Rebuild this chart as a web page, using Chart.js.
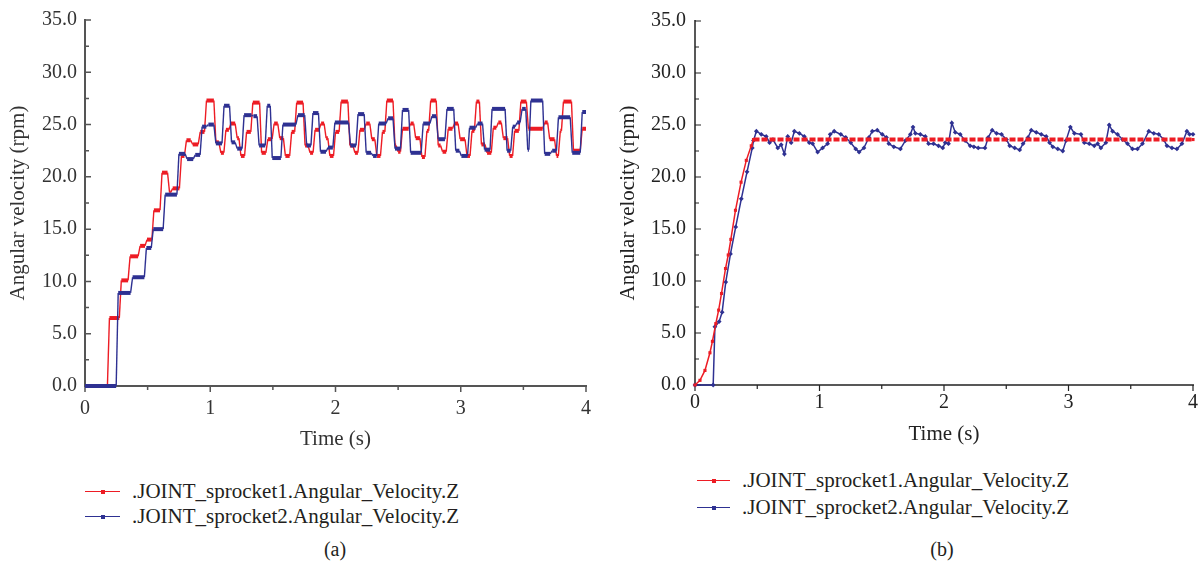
<!DOCTYPE html>
<html><head><meta charset="utf-8">
<script src="https://cdn.jsdelivr.net/npm/chart.js@4/dist/chart.umd.min.js"></script>
<style>
body{margin:0;width:1204px;height:567px;background:#fff;position:relative;overflow:hidden;font-family:"Liberation Serif","Times New Roman",serif;color:#231f20}
canvas{position:absolute;top:0}
#ca{left:0}
#cb{left:602px}
.leg{position:absolute;font-size:21px;white-space:nowrap}
.row{display:flex;align-items:center}
.sw{position:relative;height:1.6px;margin-right:12px;display:inline-block}
.sw i{position:absolute;left:50%;top:50%;width:4px;height:4px;margin:-2px 0 0 -2px}
.cap{position:absolute;font-size:20px;line-height:24px;transform:translateX(-50%)}
</style></head>
<body>
<canvas id="ca" width="602" height="460"></canvas>
<canvas id="cb" width="602" height="460"></canvas>

<div class="leg" id="legA" style="left:85px;top:479px"></div>
<div class="leg" id="legB" style="left:697px;top:467px"></div>
<div class="cap" style="left:335px;top:537px">(a)</div>
<div class="cap" style="left:942px;top:537px">(b)</div>

<script>
// ---------------- data ----------------
const seriesNames = ['.JOINT_sprocket1.Angular_Velocity.Z', '.JOINT_sprocket2.Angular_Velocity.Z'];
const xTicks = [0, 1, 2, 3, 4];
const yTicks = [0, 5, 10, 15, 20, 25, 30, 35];

// (a) step levels: start time of each level (s) and its value (rpm)
const aTime1 = [0, 0.195, 0.29, 0.36, 0.44, 0.495, 0.55, 0.615, 0.675, 0.70, 0.77, 0.81, 0.86, 0.92, 0.97, 1.045, 1.085, 1.125, 1.165, 1.215, 1.245, 1.29, 1.34, 1.41, 1.46, 1.51, 1.555, 1.60, 1.65, 1.69, 1.757, 1.797, 1.837, 1.885, 1.925, 1.955, 2.0, 2.045, 2.115, 2.155, 2.195, 2.245, 2.29, 2.33, 2.375, 2.41, 2.475, 2.50, 2.535, 2.60, 2.64, 2.69, 2.73, 2.76, 2.82, 2.855, 2.90, 2.95, 2.995, 3.05, 3.09, 3.125, 3.165, 3.21, 3.26, 3.30, 3.34, 3.39, 3.43, 3.48, 3.54, 3.67, 3.71, 3.765, 3.795, 3.82, 3.90, 3.97];
const aVel1 = [0, 6.5, 10.1, 12.4, 13.4, 14.0, 16.8, 20.4, 18.5, 18.9, 22.0, 23.5, 23.1, 24.3, 27.3, 23.3, 22.3, 24.5, 25.1, 23.7, 22.0, 24.3, 27.1, 22.3, 23.6, 25.1, 23.7, 22.0, 24.3, 27.1, 23.0, 22.3, 24.5, 25.1, 23.7, 22.0, 24.3, 27.2, 23.0, 22.3, 24.5, 25.1, 23.6, 22.0, 24.3, 27.3, 23.0, 22.4, 24.6, 25.1, 23.7, 21.9, 24.4, 27.3, 23.0, 22.4, 24.6, 25.1, 23.6, 22.0, 24.4, 27.2, 23.1, 22.3, 24.7, 25.2, 23.7, 22.0, 24.4, 27.2, 24.6, 25.2, 23.6, 22.0, 24.4, 27.2, 22.5, 24.6];
const aTime2 = [0, 0.265, 0.38, 0.49, 0.545, 0.64, 0.75, 0.815, 0.88, 0.935, 0.985, 1.045, 1.11, 1.17, 1.215, 1.27, 1.345, 1.39, 1.455, 1.495, 1.58, 1.70, 1.77, 1.82, 1.88, 1.94, 1.995, 2.12, 2.18, 2.245, 2.30, 2.345, 2.42, 2.475, 2.535, 2.60, 2.70, 2.77, 2.82, 2.89, 2.96, 3.005, 3.07, 3.135, 3.19, 3.25, 3.37, 3.415, 3.45, 3.49, 3.535, 3.56, 3.67, 3.73, 3.78, 3.89, 3.97];
const aVel2 = [0, 8.9, 10.4, 13.2, 15.0, 18.3, 22.2, 21.7, 22.1, 24.8, 25.0, 23.2, 26.8, 23.3, 22.7, 25.9, 25.8, 23.0, 26.8, 21.8, 25.0, 25.9, 23.0, 26.1, 22.4, 22.8, 25.2, 23.0, 26.0, 22.3, 22.0, 25.1, 25.6, 22.7, 26.4, 22.3, 25.1, 25.8, 23.6, 26.5, 22.5, 22.0, 24.7, 25.1, 22.6, 26.5, 22.5, 24.8, 25.2, 26.5, 22.6, 27.3, 22.2, 22.5, 25.7, 22.3, 26.2];

// (b) sampled curves
const bTime1 = [0, 0.04, 0.08, 0.12, 0.14, 0.167, 0.19, 0.213, 0.245, 0.267, 0.288, 0.325, 0.37, 0.412, 0.452, 0.47, 4.0];
const bVel1 = [0, 0.45, 1.4, 3.1, 4.2, 5.9, 7.2, 8.8, 11.2, 12.5, 14.0, 16.8, 19.5, 21.6, 23.0, 23.6, 23.6];
const bTime2 = [0, 0.146, 0.16, 0.194, 0.218, 0.247, 0.285, 0.327, 0.372, 0.418, 0.46, 0.47, 0.493, 0.532, 0.572, 0.599, 0.626, 0.665, 0.692, 0.718, 0.745, 0.772, 0.798, 0.838, 0.878, 0.918, 0.945, 0.985, 1.025, 1.065, 1.086, 1.118, 1.171, 1.211, 1.251, 1.291, 1.318, 1.357, 1.397, 1.424, 1.464, 1.504, 1.538, 1.557, 1.597, 1.65, 1.69, 1.73, 1.751, 1.77, 1.81, 1.85, 1.876, 1.916, 1.956, 1.99, 2.01, 2.036, 2.063, 2.09, 2.13, 2.17, 2.21, 2.24, 2.275, 2.329, 2.355, 2.387, 2.422, 2.462, 2.502, 2.528, 2.568, 2.608, 2.635, 2.675, 2.701, 2.741, 2.781, 2.821, 2.848, 2.874, 2.914, 2.954, 2.98, 3.015, 3.047, 3.1, 3.127, 3.167, 3.207, 3.234, 3.26, 3.3, 3.327, 3.354, 3.394, 3.434, 3.474, 3.514, 3.554, 3.594, 3.645, 3.685, 3.725, 3.765, 3.791, 3.831, 3.871, 3.911, 3.951, 3.972, 4.0];
const bVel2 = [0, 0, 5.6, 6.1, 7.0, 9.9, 12.6, 15.2, 17.9, 20.5, 22.8, 23.5, 24.4, 24.1, 23.9, 23.3, 23.6, 22.8, 23.1, 22.2, 23.9, 23.3, 24.4, 24.2, 23.9, 23.3, 23.2, 22.4, 22.8, 23.2, 24.1, 24.4, 24.1, 23.8, 23.3, 22.7, 22.4, 22.8, 23.8, 24.4, 24.5, 24.1, 23.8, 23.2, 22.9, 22.7, 23.5, 24.1, 24.8, 24.2, 24.1, 23.9, 23.2, 23.2, 23.0, 22.8, 23.3, 23.2, 25.2, 24.3, 24.1, 23.5, 23.0, 22.9, 22.8, 22.8, 23.8, 24.5, 24.2, 24.1, 23.6, 23.0, 22.8, 22.6, 23.2, 23.8, 24.5, 24.3, 24.1, 23.9, 23.3, 22.9, 22.7, 22.5, 23.5, 24.8, 24.2, 24.1, 23.3, 23.2, 23.0, 23.2, 22.8, 23.3, 25.0, 24.4, 24.1, 23.6, 23.2, 22.7, 22.7, 23.2, 24.4, 24.2, 24.1, 23.6, 23.0, 22.8, 22.7, 23.2, 24.4, 24.1, 24.1];

// ---------------- styling ----------------
const RED = '#ed1c24', BLUE = '#2e3192';
const FONT = {family: '"Liberation Serif", "Times New Roman", serif', size: 20, lineHeight: 1.2};
const TITLE_FONT = {family: '"Liberation Serif", "Times New Roman", serif', size: 21, lineHeight: 1.2};
const STEP_RAMP = 0.016; // duration of the transition between two levels in (a)

function stepPoints(ts, vs, end) {
  const pts = [];
  ts.forEach((t, i) => {
    pts.push({x: t, y: vs[i]});
    pts.push({x: i + 1 < ts.length ? ts[i + 1] - STEP_RAMP : end, y: vs[i]});
  });
  return pts;
}
function pairs(ts, vs) { return ts.map((t, i) => ({x: t, y: vs[i]})); }

const axesPlugin = {
  id: 'axesTicks',
  beforeDatasetsDraw(chart, args, o) {
    const {ctx, chartArea: a, scales: {x, y}} = chart;
    ctx.save();
    ctx.strokeStyle = o.color; ctx.lineWidth = o.width; ctx.lineCap = 'butt';
    ctx.beginPath();
    ctx.moveTo(a.left, a.top - 1); ctx.lineTo(a.left, a.bottom); ctx.lineTo(a.right + 1, a.bottom);
    ctx.stroke();
    ctx.lineWidth = o.tickWidth;
    ctx.beginPath();
    yTicks.forEach((v, i) => {
      const p = y.getPixelForValue(v);
      ctx.moveTo(a.left, p); ctx.lineTo(a.left + o.major, p);
      if (i + 1 < yTicks.length) {
        const m = y.getPixelForValue((v + yTicks[i + 1]) / 2);
        ctx.moveTo(a.left, m); ctx.lineTo(a.left + o.minor, m);
      }
    });
    xTicks.forEach((v, i) => {
      const p = x.getPixelForValue(v);
      ctx.moveTo(p, a.bottom); ctx.lineTo(p, a.bottom + o.major);
      if (i + 1 < xTicks.length) {
        const m = x.getPixelForValue((v + xTicks[i + 1]) / 2);
        ctx.moveTo(m, a.bottom); ctx.lineTo(m, a.bottom + o.minor);
      }
    });
    ctx.stroke();
    ctx.restore();
  }
};

function makeChart(id, datasets, g) {
  return new Chart(document.getElementById(id), {
    type: 'line',
    data: {datasets},
    plugins: [axesPlugin],
    options: {
      responsive: false, animation: false, events: [],
      layout: {padding: {left: 0, top: g.padTop, right: g.padRight, bottom: 0}},
      plugins: {legend: {display: false}, tooltip: {enabled: false},
        axesTicks: {color: g.axisColor, width: g.axisWidth, tickWidth: g.tickWidth, major: 6, minor: 4}},
      scales: {
        x: {type: 'linear', min: 0, max: 4,
          afterBuildTicks: s => { s.ticks = xTicks.map(v => ({value: v})); },
          afterFit: s => { s.height = g.xHeight; },
          grid: {display: false, drawTicks: false}, border: {display: false},
          ticks: {padding: g.xPad, color: g.textColor, font: FONT, maxRotation: 0, autoSkip: false, callback: v => String(v)},
          title: {display: true, text: 'Time (s)', color: g.textColor, font: TITLE_FONT, padding: {top: 0, bottom: g.xTitlePad}}},
        y: {type: 'linear', min: 0, max: 35,
          afterBuildTicks: s => { s.ticks = yTicks.map(v => ({value: v})); },
          afterFit: s => { s.width = g.yWidth; },
          grid: {display: false, drawTicks: false}, border: {display: false},
          ticks: {padding: g.yPad, color: g.textColor, font: FONT, callback: v => v.toFixed(1)},
          title: {display: true, text: 'Angular velocity (rpm)', color: g.textColor, font: TITLE_FONT, padding: {top: g.yTitlePad, bottom: 0}}}
      }
    }
  });
}

const flatWidth = w => ctx => (ctx.p0.parsed.y === ctx.p1.parsed.y ? w : undefined);

makeChart('ca', [
  {label: seriesNames[1], data: stepPoints(aTime2, aVel2, 4), borderColor: BLUE, backgroundColor: BLUE,
   borderWidth: 1.4, pointRadius: 0, tension: 0, clip: 6, order: 0,
   segment: {borderWidth: flatWidth(4)}},
  {label: seriesNames[0], data: stepPoints(aTime1, aVel1, 4), borderColor: RED, backgroundColor: RED,
   borderWidth: 1.4, pointRadius: 0, tension: 0, clip: 6, order: 1,
   segment: {borderWidth: flatWidth(4)}}
], {padTop: 20, padRight: 16, xHeight: 74, yWidth: 85, xPad: 11, yPad: 8, xTitlePad: 7.5, yTitlePad: 5.5,
    axisColor: '#555', axisWidth: 2, tickWidth: 1.5, textColor: '#333'});

makeChart('cb', [
  {label: seriesNames[0], data: pairs(bTime1, bVel1), borderColor: RED, backgroundColor: RED,
   borderWidth: 1.5, pointRadius: 2.2, pointStyle: 'rect', pointBorderWidth: 0, tension: 0, clip: 6, order: 0,
   segment: {borderWidth: flatWidth(4), borderDash: ctx => (ctx.p0.parsed.y === ctx.p1.parsed.y ? [6, 2] : undefined)}},
  {label: seriesNames[1], data: pairs(bTime2, bVel2), borderColor: BLUE, backgroundColor: BLUE,
   borderWidth: 1.5, pointRadius: 2.4, pointStyle: 'rectRot', pointBorderWidth: 0, tension: 0, clip: 6, order: 1}
], {padTop: 20, padRight: 8, xHeight: 75, yWidth: 93, xPad: 6, yPad: 9, xTitlePad: 12.5, yTitlePad: 13.5,
    axisColor: '#222', axisWidth: 1.5, tickWidth: 1.2, textColor: '#222'});

// ---------------- legends ----------------
function buildLegend(id, lineW, rowH) {
  const el = document.getElementById(id);
  [[RED, seriesNames[0]], [BLUE, seriesNames[1]]].forEach(([c, name]) => {
    const row = document.createElement('div');
    row.className = 'row'; row.style.height = rowH + 'px';
    row.innerHTML = '<span class="sw" style="width:' + lineW + 'px;background:' + c + '"><i style="background:' + c + '"></i></span><span></span>';
    row.lastChild.textContent = name;
    el.appendChild(row);
  });
}
buildLegend('legA', 35, 25);
buildLegend('legB', 33, 27);
</script>
</body></html>
